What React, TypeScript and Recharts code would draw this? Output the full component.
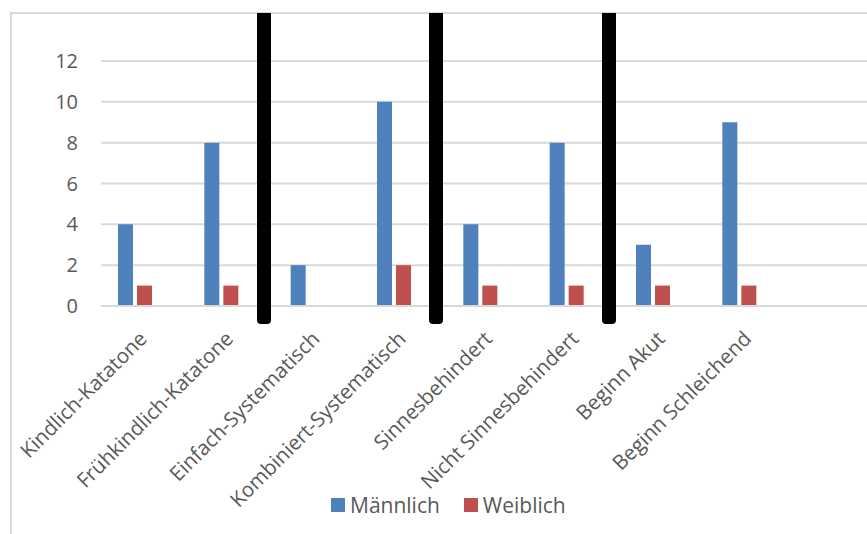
import { BarChart, Bar, XAxis, YAxis, CartesianGrid, Legend } from 'recharts';

const categories = [
  'Kindlich-Katatone',
  'Frühkindlich-Katatone',
  'Einfach-Systematisch',
  'Kombiniert-Systematisch',
  'Sinnesbehindert',
  'Nicht Sinnesbehindert',
  'Beginn Akut',
  'Beginn Schleichend',
  '',
];
const maennlich = [4, 8, 2, 10, 4, 8, 3, 9, null];
const weiblich = [1, 1, null, 2, 1, 1, 1, 1, null];
// third, empty series from the source sheet (keeps the bar groups off-centre)
const leer = [null, null, null, null, null, null, null, null, null];
const yTicks = [0, 2, 4, 6, 8, 10, 12];
// black separators: number of categories left of each one
const separatorsAt = [2, 4, 6];

const seriesColors = { maennlich: '#4f81bd', weiblich: '#c0504d' };

const data = categories.map((name, i) => ({
  name,
  maennlich: maennlich[i],
  weiblich: weiblich[i],
  leer: leer[i],
}));

const CHART_W = 880;
const CHART_H = 534;
const MARGIN = { top: 61, right: 2, bottom: 0, left: 0 };
const Y_AXIS_W = 101;
const X_AXIS_H = 228;
const FONT = '"Open Sans", "DejaVu Sans", sans-serif';
const TEXT = '#595959';
const GRID = '#d9d9d9';

const plotLeft = MARGIN.left + Y_AXIS_W;
const band = (CHART_W - plotLeft - MARGIN.right) / categories.length;

function CategoryTick({ x, y, payload }: { x: number; y: number; payload: { value: string } }) {
  return (
    <text
      x={0}
      y={0}
      transform={`translate(${x + 4},${y + 34}) rotate(-45)`}
      textAnchor="end"
      fill={TEXT}
      fontSize={20.5}
      fontFamily={FONT}
    >
      {payload.value}
    </text>
  );
}

function LegendContent() {
  const items = [
    { label: 'Männlich', color: seriesColors.maennlich },
    { label: 'Weiblich', color: seriesColors.weiblich },
  ];
  return (
    <div style={{ display: 'flex', alignItems: 'center', fontFamily: FONT, fontSize: 21, color: TEXT }}>
      {items.map((it, i) => (
        <div key={it.label} style={{ display: 'flex', alignItems: 'center', marginLeft: i ? 24 : 0 }}>
          <span style={{ width: 14, height: 14, background: it.color, marginRight: 5, display: 'inline-block' }} />
          <span style={{ lineHeight: '28px' }}>{it.label}</span>
        </div>
      ))}
    </div>
  );
}

export default function App() {
  return (
    <div
      style={{
        position: 'absolute',
        left: 0,
        top: 0,
        width: 867,
        height: 534,
        overflow: 'hidden',
        background: '#fff',
      }}
    >
      <div
        style={{
          position: 'absolute',
          left: 10,
          top: 12,
          width: 900,
          height: 600,
          border: `2px solid ${GRID}`,
        }}
      />
      <div style={{ position: 'absolute', left: 0, top: 0 }}>
        <BarChart width={CHART_W} height={CHART_H} data={data} margin={MARGIN} barGap={4}>
          <CartesianGrid vertical={false} stroke={GRID} strokeWidth={2} />
          <XAxis
            dataKey="name"
            height={X_AXIS_H}
            interval={0}
            tickLine={false}
            tickSize={0}
            tickMargin={0}
            axisLine={{ stroke: GRID, strokeWidth: 2 }}
            tick={CategoryTick}
          />
          <YAxis
            width={Y_AXIS_W}
            domain={[0, 12]}
            ticks={yTicks}
            axisLine={false}
            tickLine={false}
            tickSize={0}
            tickMargin={23}
            tick={{ fill: TEXT, fontSize: 20, fontFamily: FONT }}
          />
          <Legend
            verticalAlign="middle"
            layout="horizontal"
            content={<LegendContent />}
            wrapperStyle={{ top: 491, left: 331, width: 'auto' }}
          />
          <Bar dataKey="maennlich" name="Männlich" fill={seriesColors.maennlich} barSize={15} isAnimationActive={false} />
          <Bar dataKey="weiblich" name="Weiblich" fill={seriesColors.weiblich} barSize={15} isAnimationActive={false} />
          <Bar dataKey="leer" name="" legendType="none" fill="#9bbb59" barSize={15} isAnimationActive={false} />
        </BarChart>
      </div>
      {separatorsAt.map((k) => (
        <div
          key={k}
          style={{
            position: 'absolute',
            left: plotLeft + band * k - 10 - 7,
            top: 13,
            width: 14,
            height: 311,
            background: '#000',
            borderRadius: '0 0 4px 4px',
          }}
        />
      ))}
    </div>
  );
}
